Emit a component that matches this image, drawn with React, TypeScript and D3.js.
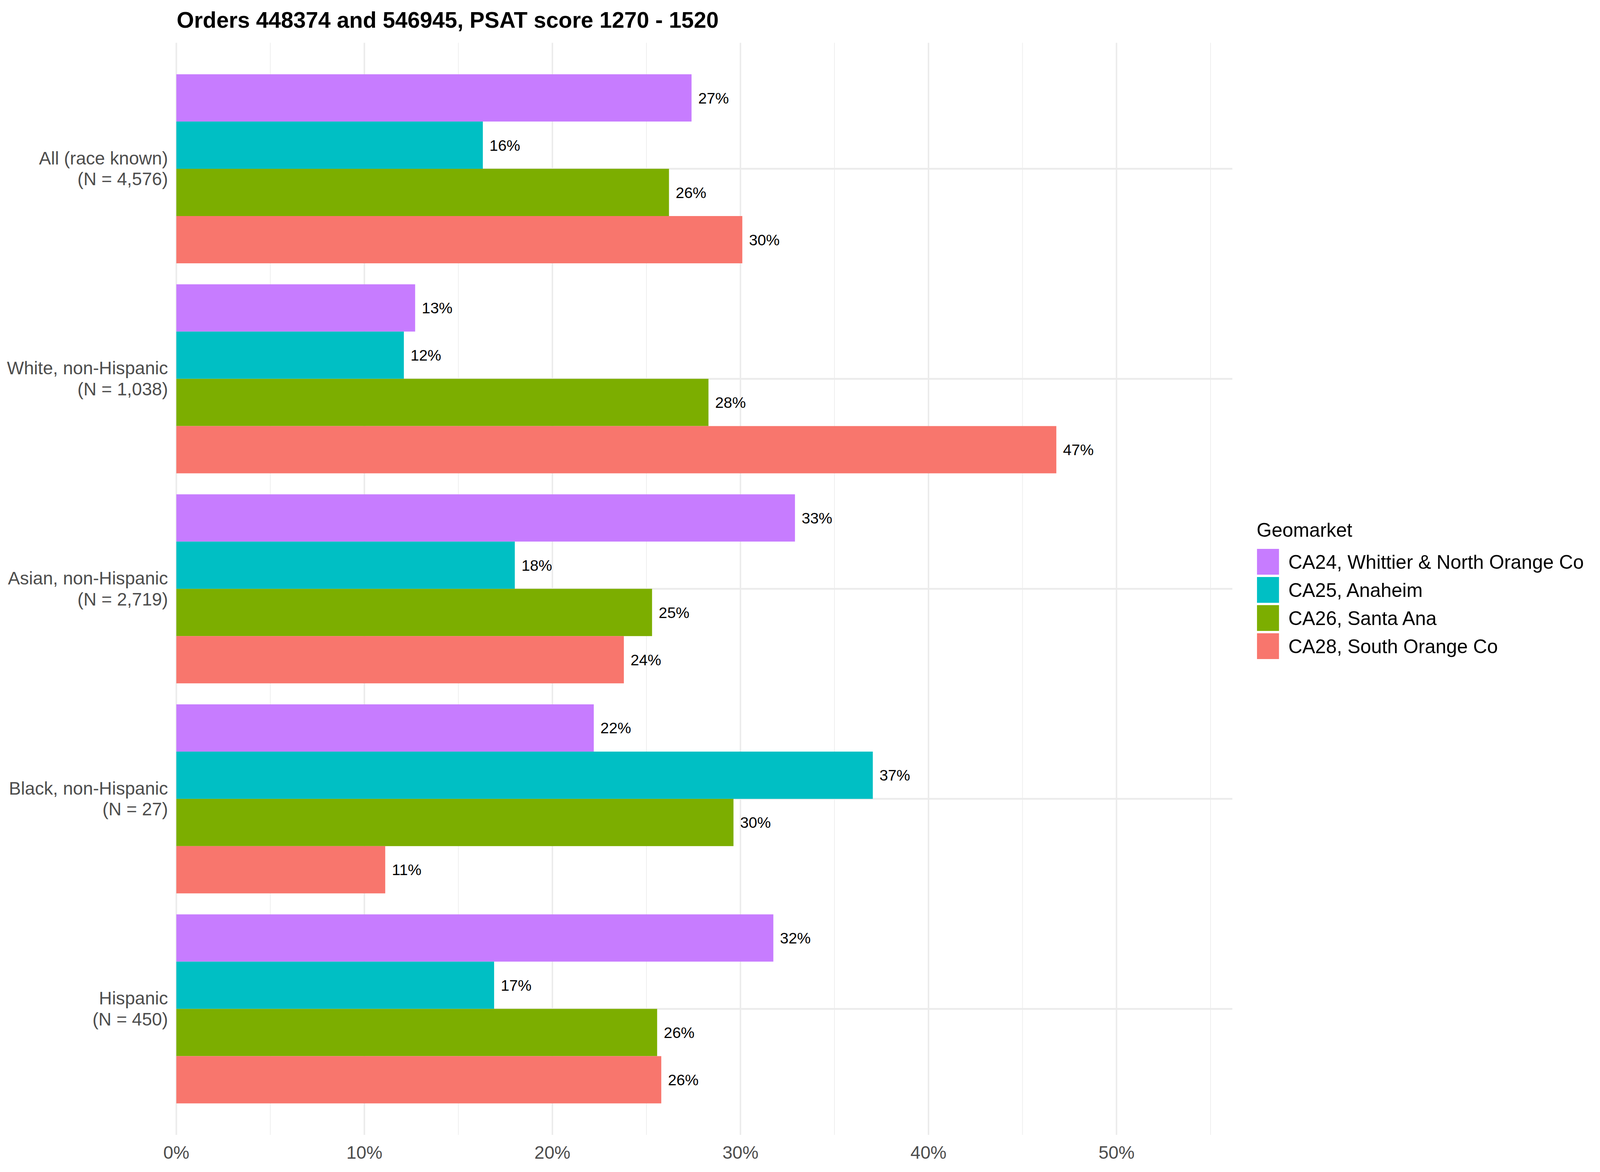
import React, { useEffect, useState } from "react";
import * as d3 from "d3";

const groups = [
  "All (race known)|(N = 4,576)",
  "White, non-Hispanic|(N = 1,038)",
  "Asian, non-Hispanic|(N = 2,719)",
  "Black, non-Hispanic|(N = 27)",
  "Hispanic|(N = 450)",
];

const geomarkets = [
  "CA24, Whittier & North Orange Co",
  "CA25, Anaheim",
  "CA26, Santa Ana",
  "CA28, South Orange Co",
];

const colors = ["#C77CFF", "#00BFC4", "#7CAE00", "#F8766D"];

// share of each race group by geomarket (rows follow groups, columns follow geomarkets)
const ca24 = [0.274, 0.127, 0.329, 0.222, 0.3175];
const ca25 = [0.163, 0.121, 0.18, 0.3704, 0.169];
const ca26 = [0.262, 0.283, 0.253, 0.2963, 0.2557];
const ca28 = [0.301, 0.468, 0.238, 0.1111, 0.2579];

const series = [ca24, ca25, ca26, ca28];

const xTicks = [0, 0.1, 0.2, 0.3, 0.4, 0.5];
const xMinor = [0.05, 0.15, 0.25, 0.35, 0.45, 0.55];

// layout is laid out on a 4800 x 3000 frame and stretched to the window
const W = 4800;
const H = 3000;
const font = "'Liberation Sans', Arial, Helvetica, sans-serif";

const useWindowSize = () => {
  const get = () => ({
    w: document.documentElement.clientWidth || window.innerWidth || W,
    h: window.innerHeight || H,
  });
  const [size, setSize] = useState(get);
  useEffect(() => {
    const onResize = () => setSize(get());
    window.addEventListener("resize", onResize);
    return () => window.removeEventListener("resize", onResize);
  }, []);
  return size;
};

const App = () => {
  const { w, h } = useWindowSize();
  const sx = w / W;
  const sy = h / H;
  const fs = sx; // font scale follows the width so texts keep their horizontal extent
  const X = (v: number) => v * sx;
  const Y = (v: number) => v * sy;

  const panel = { left: X(529), right: X(3697), top: Y(109.5), bottom: Y(2905) };

  const x = d3
    .scaleLinear()
    .domain([0, 0.468 * 1.2])
    .range([panel.left, panel.right]);

  const y = d3
    .scaleBand<string>()
    .domain(groups)
    .range([panel.top, panel.bottom])
    .paddingInner(0.1)
    .paddingOuter(0.15);

  const inner = d3
    .scaleBand<string>()
    .domain(geomarkets)
    .range([0, y.bandwidth()]);

  const pct = d3.format(".0%");

  return (
    <svg
      width={w}
      height={h}
      style={{ position: "fixed", left: 0, top: 0, display: "block", background: "#fff" }}
      fontFamily={font}
    >
      <rect width={w} height={h} fill="#fff" />

      {/* grid */}
      {xMinor.map((t) => (
        <line
          key={"mn" + t}
          x1={x(t)}
          x2={x(t)}
          y1={panel.top}
          y2={panel.bottom}
          stroke="#EEEEEE"
          strokeWidth={2.3 * fs}
        />
      ))}
      {xTicks.map((t) => (
        <line
          key={"mj" + t}
          x1={x(t)}
          x2={x(t)}
          y1={panel.top}
          y2={panel.bottom}
          stroke="#EBEBEB"
          strokeWidth={4.5 * fs}
        />
      ))}
      {groups.map((g) => (
        <line
          key={"hg" + g}
          x1={panel.left}
          x2={panel.right}
          y1={y(g)! + y.bandwidth() / 2}
          y2={y(g)! + y.bandwidth() / 2}
          stroke="#EBEBEB"
          strokeWidth={4.5 * sy}
        />
      ))}

      {/* bars */}
      {series.map((vals, si) =>
        vals.map((v, gi) => (
          <rect
            key={`b${si}-${gi}`}
            x={x(0)}
            y={y(groups[gi])! + inner(geomarkets[si])!}
            width={x(v) - x(0)}
            height={inner.bandwidth()}
            fill={colors[si]}
          />
        ))
      )}

      {/* value labels */}
      {series.map((vals, si) =>
        vals.map((v, gi) => (
          <text
            key={`t${si}-${gi}`}
            x={x(v) + 20 * sx}
            y={y(groups[gi])! + inner(geomarkets[si])! + inner.bandwidth() / 2 + 16.5 * fs}
            fontSize={46 * fs}
            fill="#000"
          >
            {pct(v)}
          </text>
        ))
      )}

      {/* y axis labels */}
      {groups.map((g) => {
        const c = y(g)! + y.bandwidth() / 2;
        const [l1, l2] = g.split("|");
        return (
          <text key={"yl" + g} textAnchor="end" fontSize={54 * fs} fill="#4D4D4D">
            <tspan x={X(504)} y={c - 10 * fs - 19 * (sy - fs)}>
              {l1}
            </tspan>
            <tspan x={X(504)} y={c + 48 * fs + 10 * (sy - fs)}>
              {l2}
            </tspan>
          </text>
        );
      })}

      {/* x axis labels */}
      {xTicks.map((t) => (
        <text
          key={"xl" + t}
          x={x(t)}
          y={Y(2966)}
          textAnchor="middle"
          fontSize={54 * fs}
          fill="#4D4D4D"
        >
          {pct(t)}
        </text>
      ))}

      {/* title */}
      <text x={X(530)} y={Y(71)} fontSize={67 * fs} fontWeight="bold" fill="#000">
        Orders 448374 and 546945, PSAT score 1270 - 1520
      </text>

      {/* legend */}
      <text x={X(3770)} y={Y(1374)} fontSize={58 * fs} fill="#000">
        Geomarket
      </text>
      {geomarkets.map((gm, i) => (
        <g key={"lg" + gm}>
          <rect
            x={X(3771)}
            y={Y(1405 + i * 72)}
            width={X(66)}
            height={Y(66)}
            fill={colors[i]}
          />
          <text
            x={X(3865)}
            y={Y(1405 + i * 72 + 33) + 21 * fs}
            fontSize={58 * fs}
            fill="#000"
          >
            {gm}
          </text>
        </g>
      ))}
    </svg>
  );
};

export default App;
